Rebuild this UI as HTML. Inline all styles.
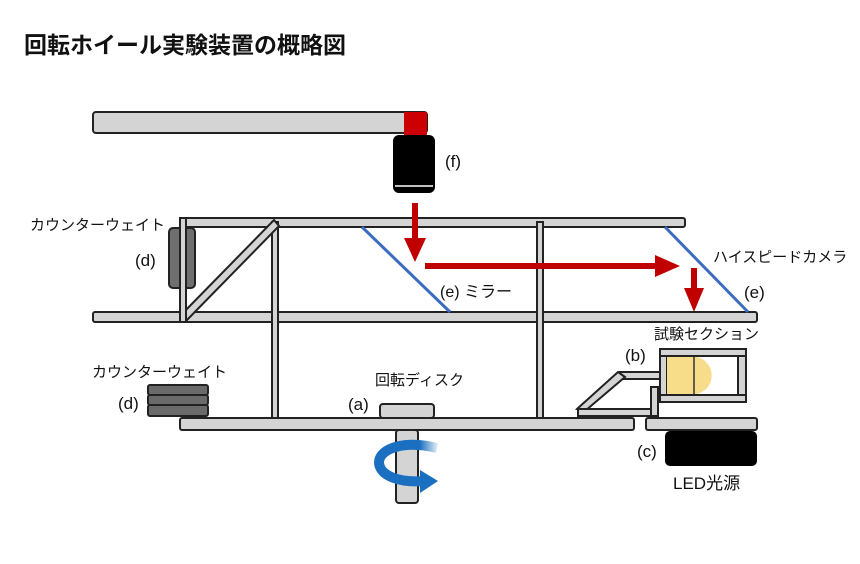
<!DOCTYPE html>
<html><head><meta charset="utf-8"><style>
body{margin:0;background:#fff;width:860px;height:559px;overflow:hidden}
svg text{font-family:"Liberation Sans","Noto Sans CJK JP",sans-serif;fill:#111}
</style></head><body>
<svg width="860" height="559" viewBox="0 0 860 559">
<defs><linearGradient id="bg" x1="0" x2="1"><stop offset="0" stop-color="#1a6fc0"/><stop offset="0.7" stop-color="#1a6fc0"/><stop offset="1" stop-color="#1a6fc0" stop-opacity="0.15"/></linearGradient></defs>
<text x="24" y="53" font-size="23" font-weight="bold">回転ホイール実験装置の概略図</text>
<g stroke="#222" stroke-width="2" fill="#d4d4d4">
<rect x="93" y="112" width="334" height="21" rx="3"/>
<rect x="180" y="218" width="505" height="9" rx="2"/>
<rect x="93" y="312" width="664" height="10" rx="2"/>
<rect x="272" y="222" width="6" height="208"/>
<rect x="537" y="222" width="6" height="208"/>
<polygon points="181,315 274,220 279,226 186,321"/>
<rect x="169" y="228" width="26" height="60" rx="4" fill="#6f6f6f"/>
<rect x="180" y="218" width="6" height="104"/>
<rect x="180" y="418" width="454" height="12" rx="2"/>
<rect x="646" y="418" width="111" height="12" rx="2"/>
<rect x="380" y="404" width="54" height="14" rx="3"/>
<rect x="396" y="430" width="22" height="73" rx="3"/>
<rect x="148" y="385" width="60" height="10" rx="2" fill="#6a6a6a"/>
<rect x="148" y="395" width="60" height="10" rx="2" fill="#6a6a6a"/>
<rect x="148" y="405" width="60" height="11" rx="2" fill="#6a6a6a"/>
<rect x="620" y="372" width="40" height="7"/>
<polygon points="618,372 625,377 585,411 577,409"/>
<rect x="578" y="409" width="74" height="7"/>
<rect x="651" y="387" width="7" height="29"/>
<rect x="660" y="349" width="86" height="7"/>
<rect x="660" y="395" width="86" height="7"/>
<rect x="660" y="356" width="7" height="39"/>
<rect x="738" y="356" width="8" height="39"/>
</g>
<path d="M667 357 H697 A19 19 0 0 1 697 394 H667 Z" fill="#f7dc8a"/>
<line x1="694" y1="357" x2="694" y2="394" stroke="#333" stroke-width="1.5"/>
<rect x="665" y="431" width="92" height="35" rx="5" fill="#000"/>
<rect x="404" y="112" width="23" height="23" fill="#c00"/>
<rect x="393" y="135" width="42" height="58" rx="6" fill="#000"/>
<line x1="395" y1="186" x2="433" y2="186" stroke="#fff" stroke-width="1.5"/>
<line x1="362" y1="227" x2="450" y2="312" stroke="#3c6cc0" stroke-width="3"/>
<line x1="665" y1="227" x2="748" y2="312" stroke="#3c6cc0" stroke-width="3"/>
<g fill="#c00000">
<rect x="412" y="203" width="6" height="37"/><polygon points="404,238 426,238 415,262"/>
<rect x="425" y="263" width="233" height="6"/><polygon points="655,255 680,266 655,277"/>
<rect x="691" y="268" width="6" height="22"/><polygon points="684,288 704,288 694,312"/>
</g>
<path d="M437 448 C405 440 380 448 379 462 C379 476 400 483 424 481" fill="none" stroke="url(#bg)" stroke-width="10"/>
<polygon points="420,470 438,481 420,493" fill="#1a6fc0"/>
<g font-size="15">
<text x="445" y="167" font-size="17">(f)</text>
<text x="30" y="230">カウンターウェイト</text>
<text x="135" y="266" font-size="17">(d)</text>
<text x="440" y="297" font-size="16">(e) ミラー</text>
<text x="713" y="262">ハイスピードカメラ</text>
<text x="744" y="298" font-size="17">(e)</text>
<text x="654" y="339">試験セクション</text>
<text x="625" y="361" font-size="17">(b)</text>
<text x="92" y="377">カウンターウェイト</text>
<text x="118" y="409" font-size="17">(d)</text>
<text x="375" y="385">回転ディスク</text>
<text x="348" y="410" font-size="17">(a)</text>
<text x="637" y="457" font-size="17">(c)</text>
<text x="673" y="489" font-size="17">LED光源</text>
</g>
</svg>
</body></html>
